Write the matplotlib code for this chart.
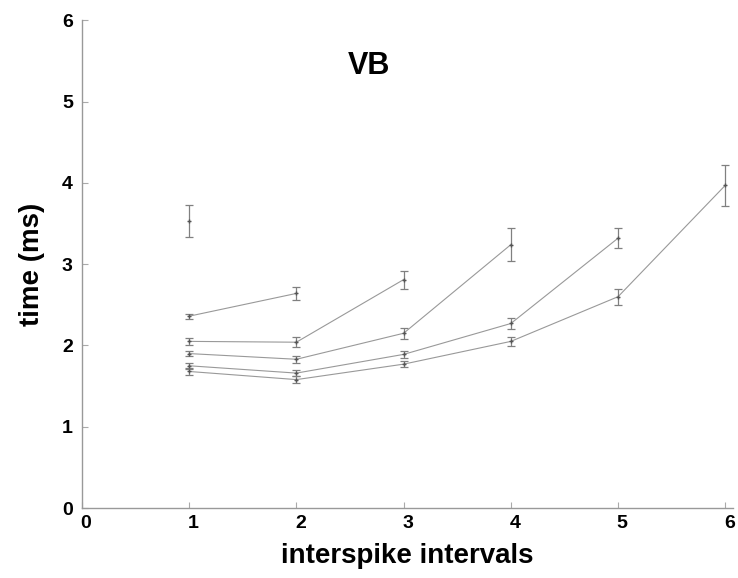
import matplotlib
matplotlib.use("Agg")
import matplotlib.pyplot as plt
import matplotlib.transforms as mtransforms

# Data: each series = (x positions, mean times in ms, error half-widths)
iso_x = [1]
iso_y = [3.53]
iso_e = [0.20]

sA_x = [1, 2]
sA_y = [2.36, 2.64]
sA_e = [0.03, 0.08]

sB_x = [1, 2, 3]
sB_y = [2.05, 2.04, 2.81]
sB_e = [0.04, 0.06, 0.11]

sC_x = [1, 2, 3, 4]
sC_y = [1.90, 1.83, 2.15, 3.24]
sC_e = [0.03, 0.04, 0.07, 0.20]

sD_x = [1, 2, 3, 4, 5]
sD_y = [1.75, 1.66, 1.89, 2.27, 3.32]
sD_e = [0.04, 0.04, 0.04, 0.065, 0.12]

sE_x = [1, 2, 3, 4, 5, 6]
sE_y = [1.68, 1.58, 1.77, 2.05, 2.60, 3.97]
sE_e = [0.04, 0.04, 0.04, 0.06, 0.10, 0.25]

series = [(iso_x, iso_y, iso_e), (sA_x, sA_y, sA_e), (sB_x, sB_y, sB_e),
          (sC_x, sC_y, sC_e), (sD_x, sD_y, sD_e), (sE_x, sE_y, sE_e)]

xticks = [0, 1, 2, 3, 4, 5, 6]
yticks = [0, 1, 2, 3, 4, 5, 6]

plt.rcParams['font.family'] = ['Liberation Sans', 'DejaVu Sans']

fig = plt.figure(figsize=(7.38, 5.78), dpi=100)
ax = fig.add_axes([0.111, 0.121, 0.882, 0.844])

for x, y, e in series:
    ax.errorbar(x, y, yerr=e, color='#999999', linewidth=0.8, elinewidth=0.9,
                ecolor='#808080', capsize=3, capthick=0.9, marker='+',
                markersize=3, markeredgecolor='#555555')

ax.set_xlim(0, 6.07)
ax.set_ylim(0, 6)
ax.set_xticks(xticks)
ax.set_yticks(yticks)
for s in ['top', 'right']:
    ax.spines[s].set_visible(False)
for s in ['left', 'bottom']:
    ax.spines[s].set_color('#999999')
    ax.spines[s].set_linewidth(1.0)
ax.tick_params(direction='in', length=4, color='#aaaaaa', width=0.8,
               labelsize=14)
ax.tick_params(axis='x', pad=5)
ax.tick_params(axis='y', pad=6.5)
offset = mtransforms.ScaledTranslation(4 / 100, 0, fig.dpi_scale_trans)
for lab in ax.get_xticklabels():
    lab.set_fontweight('bold')
    lab.set_transform(lab.get_transform() + offset)
for lab in ax.get_yticklabels():
    lab.set_fontweight('bold')

ax.set_xlabel('interspike intervals', fontsize=20, fontweight='bold', labelpad=8)
ax.set_ylabel('time (ms)', fontsize=20, fontweight='bold', labelpad=12)
ax.text(2.68, 5.44, 'VB', fontsize=22, fontweight='bold', ha='center', va='center')

fig.savefig('out.png', dpi=100)
